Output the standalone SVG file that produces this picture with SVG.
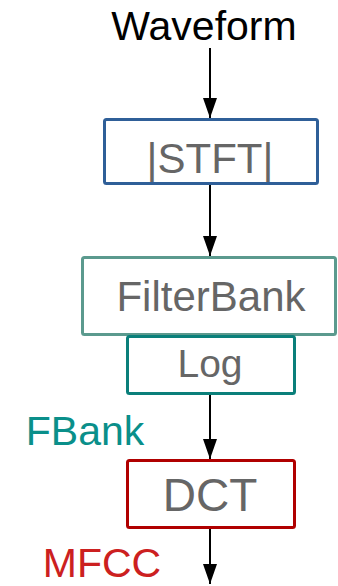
<svg xmlns="http://www.w3.org/2000/svg" width="338" height="586" viewBox="0 0 338 586">
<defs>
<marker id="a" markerUnits="userSpaceOnUse" markerWidth="22" markerHeight="16" refX="20" refY="7" orient="auto" viewBox="0 0 22 16">
<path d="M0,0 L20,7 L0,14 Z" fill="#000"/>
</marker>
</defs>
<style>
.t{font-family:"Liberation Sans",Arial,sans-serif;text-anchor:middle;fill:#666}
.box{fill:#fff;stroke-width:3}
.c{stroke:#000;stroke-width:2;fill:none}
.l{font-family:"Liberation Sans",Arial,sans-serif;text-anchor:middle;font-size:41px}
</style>
<text class="l" x="204" y="40" fill="#000">Waveform</text>
<g id="stft"><rect class="box" x="104.5" y="119.5" width="213" height="64" rx="2" stroke="#2f5f98"/><text class="t" x="210" y="173" font-size="42">|STFT|</text></g>
<g id="filterbank"><rect class="box" x="82.5" y="257.5" width="253" height="77" rx="2" stroke="#5b9a8e"/><text class="t" x="211" y="311" font-size="42">FilterBank</text></g>
<g id="log"><rect class="box" x="127.5" y="336.5" width="167" height="57" rx="2" stroke="#0a7f7a"/><text class="t" x="210" y="377" font-size="39">Log</text></g>
<g id="dct"><rect class="box" x="127.5" y="460.5" width="167" height="67" rx="2" stroke="#b00000"/><text class="t" x="210" y="511" font-size="46">DCT</text></g>
<text class="l" x="85" y="445" fill="#0a8f8a">FBank</text>
<text class="l" x="102" y="577" fill="#cc2020">MFCC</text>
<g id="connectors">
<line class="c" x1="210" y1="48" x2="210" y2="118" marker-end="url(#a)"/>
<line class="c" x1="210" y1="185" x2="210" y2="256" marker-end="url(#a)"/>
<line class="c" x1="210" y1="395" x2="210" y2="459" marker-end="url(#a)"/>
<line class="c" x1="210" y1="529" x2="210" y2="584" marker-end="url(#a)"/>
</g>
</svg>
